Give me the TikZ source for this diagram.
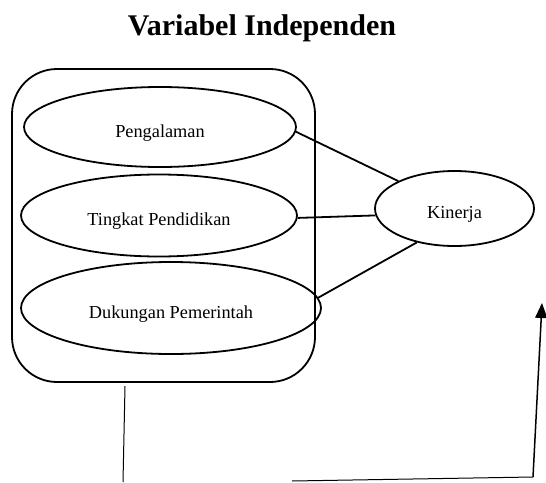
\documentclass[tikz,border=0pt]{standalone}
\usepackage{fontspec}
\setmainfont{Liberation Serif}
\usetikzlibrary{shapes.geometric,arrows.meta}
\begin{document}
\begin{tikzpicture}[x=1pt,y=-1pt,
  var/.style={draw,ellipse,line width=1.8pt,inner sep=0pt,text height=20pt,text depth=0pt,font=\fontsize{18.3}{22}\selectfont},
  conn/.style={line width=1.8pt},
  thin/.style={line width=1pt}]
\useasboundingbox (0,0) rectangle (546,482);
\node[anchor=base,font=\fontsize{30}{36}\selectfont\bfseries] (title) at (262,35) {Variabel Independen};
\draw[line width=1.8pt,rounded corners=45pt] (12,69) rectangle (315,382);
\node[var,minimum width=272pt,minimum height=80pt] (p) at (160,127) {Pengalaman};
\node[var,minimum width=276pt,minimum height=82pt] (t) at (159,215.5) {Tingkat Pendidikan};
\node[var,minimum width=300pt,minimum height=92pt] (d) at (171,308) {Dukungan Pemerintah};
\node[var,minimum width=159pt,minimum height=75pt] (k) at (454.5,208.5) {Kinerja};
\draw[conn] (p.-2) -- (k.154);
\draw[conn] (t.-1) -- (k.185);
\draw[conn] (d.4) -- (k.222);
\coordinate (a1) at (125,386);
\coordinate (a2) at (123,482);
\coordinate (b1) at (292,481);
\coordinate (b2) at (533,477);
\coordinate (b3) at (542,303);
\draw[thin] (a1) -- (a2);
\draw[thin] (b1) -- (b2);
\draw[line width=1.5pt,-{Triangle[length=15pt,width=12pt]}] (b2) -- (b3);
\end{tikzpicture}
\end{document}
